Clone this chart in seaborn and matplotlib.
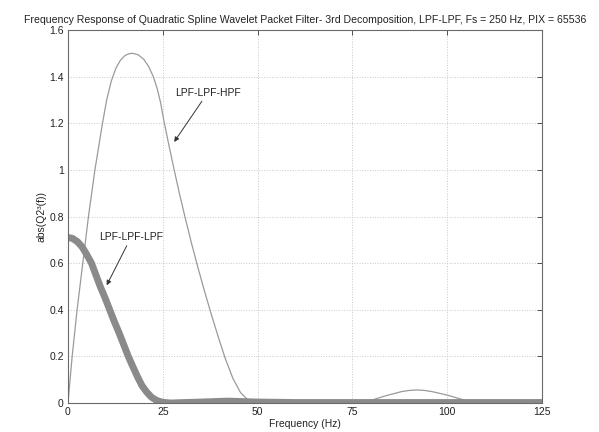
import matplotlib
matplotlib.use("Agg")
import matplotlib.pyplot as plt
from matplotlib.ticker import FuncFormatter
import pandas as pd
import seaborn as sns

# LPF-LPF-HPF branch magnitude (thin trace)
hpf_freq = [0, 1.1, 2.4, 3.9, 5.4, 7.1, 9.1, 10.2, 11.4, 12.6, 13.8, 15,
            16, 17, 18.5, 20, 21.3, 22.5, 23.5, 24.4, 25.3, 26.5, 27.8,
            29.3, 30.9, 32.5, 34.2, 36, 37.8, 39.6, 41.5, 43.5, 45.5, 47.5,
            50, 60, 70, 77, 80, 84, 88, 90, 92, 94, 96, 100, 104, 107.5,
            115, 125]
hpf_mag = [0, 0.2, 0.4, 0.6, 0.8, 1.0, 1.2, 1.3, 1.38, 1.435, 1.47, 1.49,
           1.498, 1.5, 1.494, 1.474, 1.443, 1.4, 1.35, 1.29, 1.21, 1.115,
           1.015, 0.905, 0.795, 0.69, 0.585, 0.48, 0.38, 0.285, 0.19,
           0.105, 0.045, 0.012, 0.0, 0.0, 0.0, 0.0, 0.012, 0.032, 0.049,
           0.054, 0.056, 0.054, 0.049, 0.034, 0.015, 0.0, 0.0, 0.0]

# LPF-LPF-LPF branch magnitude (thick trace)
lpf_freq = [0, 1.2, 2.5, 3.8, 5, 6.2, 7.3, 8.5, 9.8, 11, 12.2, 13.5, 14.7,
            15.9, 17, 18.4, 19.5, 20.7, 22, 23.5, 25, 27, 35, 42, 50, 60,
            80, 100, 125]
lpf_mag = [0.71, 0.706, 0.692, 0.668, 0.635, 0.6, 0.552, 0.5, 0.45, 0.4,
           0.35, 0.3, 0.25, 0.2, 0.16, 0.11, 0.075, 0.048, 0.025, 0.01,
           0.003, 0.0, 0.004, 0.008, 0.004, 0.002, 0.002, 0.002, 0.002]

x_ticks = [0, 25, 50, 75, 100, 125]
y_ticks = [0, 0.2, 0.4, 0.6, 0.8, 1.0, 1.2, 1.4, 1.6]

title_text = ("Frequency Response of Quadratic Spline Wavelet Packet Filter- "
              "3rd Decomposition, LPF-LPF, Fs = 250 Hz, PIX = 65536")

sns.set_style("white")
plt.rcParams["font.family"] = ["Liberation Sans", "DejaVu Sans"]

hpf_df = pd.DataFrame({"Frequency (Hz)": hpf_freq, "mag": hpf_mag})
lpf_df = pd.DataFrame({"Frequency (Hz)": lpf_freq, "mag": lpf_mag})

fig = plt.figure(figsize=(5.99, 4.32), dpi=100)
ax = fig.add_axes([0.1135, 0.0671, 0.7913, 0.8634])

sns.lineplot(data=hpf_df, x="Frequency (Hz)", y="mag", ax=ax,
             color="#9a9a9a", linewidth=0.9, sort=False)
sns.lineplot(data=lpf_df, x="Frequency (Hz)", y="mag", ax=ax,
             color="#8a8a8a", linewidth=5.0, sort=False,
             solid_capstyle="round", solid_joinstyle="round")

ax.set_xlim(0, 125)
ax.set_ylim(0, 1.6)
ax.set_xticks(x_ticks)
ax.set_yticks(y_ticks)
ax.yaxis.set_major_formatter(FuncFormatter(lambda v, p: f"{v:g}"))
ax.tick_params(direction="in", length=3.5, width=0.6, labelsize=7.5,
               top=True, right=True, colors="#333333", labelcolor="#222222",
               pad=3)
ax.grid(True, linestyle=":", linewidth=0.7, color="#c8c8c8")
for s in ax.spines.values():
    s.set_color("#6a6a6a")
    s.set_linewidth(0.8)

ax.set_xlabel("Frequency (Hz)", fontsize=7.5, labelpad=1, color="#222222")
ax.set_ylabel("abs(Q2³(f))", fontsize=7.5, labelpad=2, color="#222222")
ax.set_title(title_text, fontsize=7.6, pad=5, color="#222222")

arrow = dict(arrowstyle="-|>", color="#333333", lw=0.7,
             mutation_scale=7, shrinkA=0, shrinkB=0)
ax.annotate("LPF-LPF-HPF", xy=(28, 1.12), xytext=(36.8, 1.33),
            fontsize=7.5, ha="center", va="center", color="#222222",
            arrowprops=arrow)
ax.annotate("LPF-LPF-LPF", xy=(10.2, 0.505), xytext=(16.6, 0.71),
            fontsize=7.5, ha="center", va="center", color="#222222",
            arrowprops=arrow)

fig.savefig("out.png", dpi=100)
